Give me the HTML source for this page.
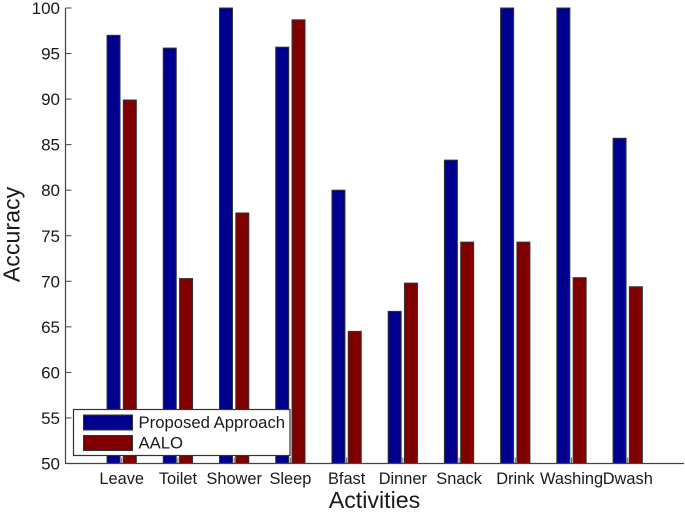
<!DOCTYPE html>
<html>
<head>
<meta charset="utf-8">
<style>
html,body{margin:0;padding:0;background:#fff;width:685px;height:516px;overflow:hidden}
svg{display:block}
text{font-family:"Liberation Sans",Arial,sans-serif;fill:#1a1a1a}
</style>
</head>
<body>
<svg id="chart" xmlns="http://www.w3.org/2000/svg" width="685" height="516" viewBox="0 0 685 516">
  <g id="bars"></g>
  <g id="axes"></g>
  <text x="374.5" y="508" font-size="23.2" text-anchor="middle">Activities</text>
  <text transform="translate(19.5,234.5) rotate(-90)" font-size="23.2" text-anchor="middle">Accuracy</text>
  <g>
    <rect x="73.5" y="409.5" width="216.5" height="46" fill="#fff" stroke="#333" stroke-width="1.2"/>
    <rect x="83.5" y="415" width="49" height="15" fill="#00008f" stroke="#333" stroke-width="1"/>
    <text x="138.5" y="428" font-size="16.7">Proposed Approach</text>
    <rect x="83.5" y="435.5" width="49" height="15" fill="#800000" stroke="#333" stroke-width="1"/>
    <text x="138.5" y="448.5" font-size="16.7">AALO</text>
  </g>
</svg>
<script>
const categories = ["Leave","Toilet","Shower","Sleep","Bfast","Dinner","Snack","Drink","Washing","Dwash"];
const proposedValues = [97,95.6,100,95.7,80,66.7,83.3,100,100,85.7];
const aaloValues = [89.9,70.3,77.5,98.7,64.5,69.8,74.3,74.3,70.4,69.4];
const yTicks = [50,55,60,65,70,75,80,85,90,95,100];

const NS = "http://www.w3.org/2000/svg";
const L = 65.5, R = 684, T = 8, B = 463.5;
const xMin = 0, xMax = 11, yMin = 50, yMax = 100;
function xScale(v){ return L + (v - xMin) / (xMax - xMin) * (R - L); }
function yScale(v){ return B - (v - yMin) / (yMax - yMin) * (B - T); }
function make(tag, attrs, parent){
  const el = document.createElementNS(NS, tag);
  for (const k in attrs) el.setAttribute(k, attrs[k]);
  parent.appendChild(el);
  return el;
}
const barsG = document.getElementById("bars");
const axesG = document.getElementById("axes");
const barW = 13;

function drawBar(value, x, fill, name){
  const y = yScale(Math.min(value, yMax));
  const r = make("rect", {x:x, y:y, width:barW, height:B - y, fill:fill, stroke:"#333", "stroke-width":1}, barsG);
  
  
}

categories.forEach(function(c, i){
  const cx = xScale(i + 1);
  drawBar(proposedValues[i], cx - 14.7, "#00008f", "bar-proposed-" + c.toLowerCase());
  drawBar(aaloValues[i], cx + 1.6, "#800000", "bar-aalo-" + c.toLowerCase());
  const tick = make("line", {x1:cx, x2:cx, y1:B, y2:B - 6, stroke:"#666", "stroke-width":1}, axesG);
  
  
  const label = make("text", {x:cx, y:484, "font-size":16.4, "text-anchor":"middle"}, axesG);
  label.textContent = c;
  
  
});

yTicks.forEach(function(v){
  const y = yScale(v);
  const tick = make("line", {x1:L, x2:L + 6, y1:y, y2:y, stroke:"#444", "stroke-width":1}, axesG);
  
  
  const label = make("text", {x:L - 5.5, y:y + 6, "font-size":17, "text-anchor":"end"}, axesG);
  label.textContent = v;
  
  
});

const yAxis = make("line", {x1:L, x2:L, y1:T, y2:B + 0.5, stroke:"#444", "stroke-width":1.2}, axesG);


const xAxis = make("line", {x1:L, x2:R, y1:B, y2:B, stroke:"#444", "stroke-width":1.2}, axesG);


</script>
</body>
</html>
